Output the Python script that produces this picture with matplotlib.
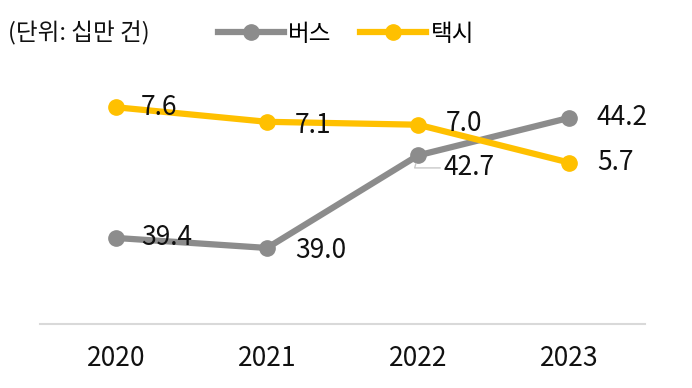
import matplotlib.pyplot as plt
from matplotlib.lines import Line2D

plt.rcParams['font.family'] = ['Noto Sans CJK KR', 'DejaVu Sans']
plt.rcParams['font.weight'] = 'light'

years = ['2020', '2021', '2022', '2023']
bus = [39.4, 39.0, 42.7, 44.2]
taxi = [7.6, 7.1, 7.0, 5.7]
bus_name = '버스'
taxi_name = '택시'
unit_text = '(단위: 십만 건)'

gray = '#8c8c8c'
gold = '#ffc000'
xs = list(range(len(years)))

fig = plt.figure(figsize=(6.92, 3.88), dpi=100)
ax = fig.add_axes([0.058, 0.165, 0.874, 0.68])
ax2 = ax.twinx()

ax.plot(xs, bus, color=gray, lw=4.5, marker='o', ms=11, zorder=3)
ax2.plot(xs, taxi, color=gold, lw=4.5, marker='o', ms=11, zorder=3)

ax.set_xlim(-0.503, 3.503)
ax.set_ylim(35.96, 46.51)
ax2.set_ylim(0.15, 9.22)

# data labels (offsets in points)
bus_off = [(18, 0), (20, -2), (18, -9), (20, 0)]
taxi_off = [(18, 0), (20, -3), (20, 1), (20, 0)]
for i, v in enumerate(bus):
    if i == 2:
        ax.annotate(f'{v:.1f}', (xs[i], v), xytext=bus_off[i], textcoords='offset points',
                    ha='left', va='center', fontsize=19, color='#111111',
                    arrowprops=dict(arrowstyle='-', color='#c8c8c8', lw=1,
                                    shrinkA=0, shrinkB=6,
                                    connectionstyle='angle,angleA=0,angleB=75'))
    else:
        ax.annotate(f'{v:.1f}', (xs[i], v), xytext=bus_off[i], textcoords='offset points',
                    ha='left', va='center', fontsize=19, color='#111111')
for i, v in enumerate(taxi):
    ax2.annotate(f'{v:.1f}', (xs[i], v), xytext=taxi_off[i], textcoords='offset points',
                 ha='left', va='center', fontsize=19, color='#111111')

ax.set_xticks(xs)
ax.set_xticklabels(years, fontsize=19, color='#111111')
ax.tick_params(axis='x', length=0, pad=15)
ax.set_yticks([])
ax2.set_yticks([])
for a in (ax, ax2):
    for s in ['top', 'right', 'left']:
        a.spines[s].set_visible(False)
ax2.spines['bottom'].set_visible(False)
ax.spines['bottom'].set_color('#d9d9d9')
ax.spines['bottom'].set_linewidth(1.5)

fig.text(0.012, 0.915, unit_text, fontsize=17, va='center', ha='left', color='#111111')

handles = [Line2D([], [], color=gray, lw=4.5, marker='o', ms=11),
           Line2D([], [], color=gold, lw=4.5, marker='o', ms=11)]
fig.legend(handles, [bus_name, taxi_name], loc='center', bbox_to_anchor=(0.5, 0.912),
           ncol=2, frameon=False, fontsize=17, handlelength=2.8, handletextpad=0.2,
           columnspacing=1.2)

fig.savefig('out.png', dpi=100)
